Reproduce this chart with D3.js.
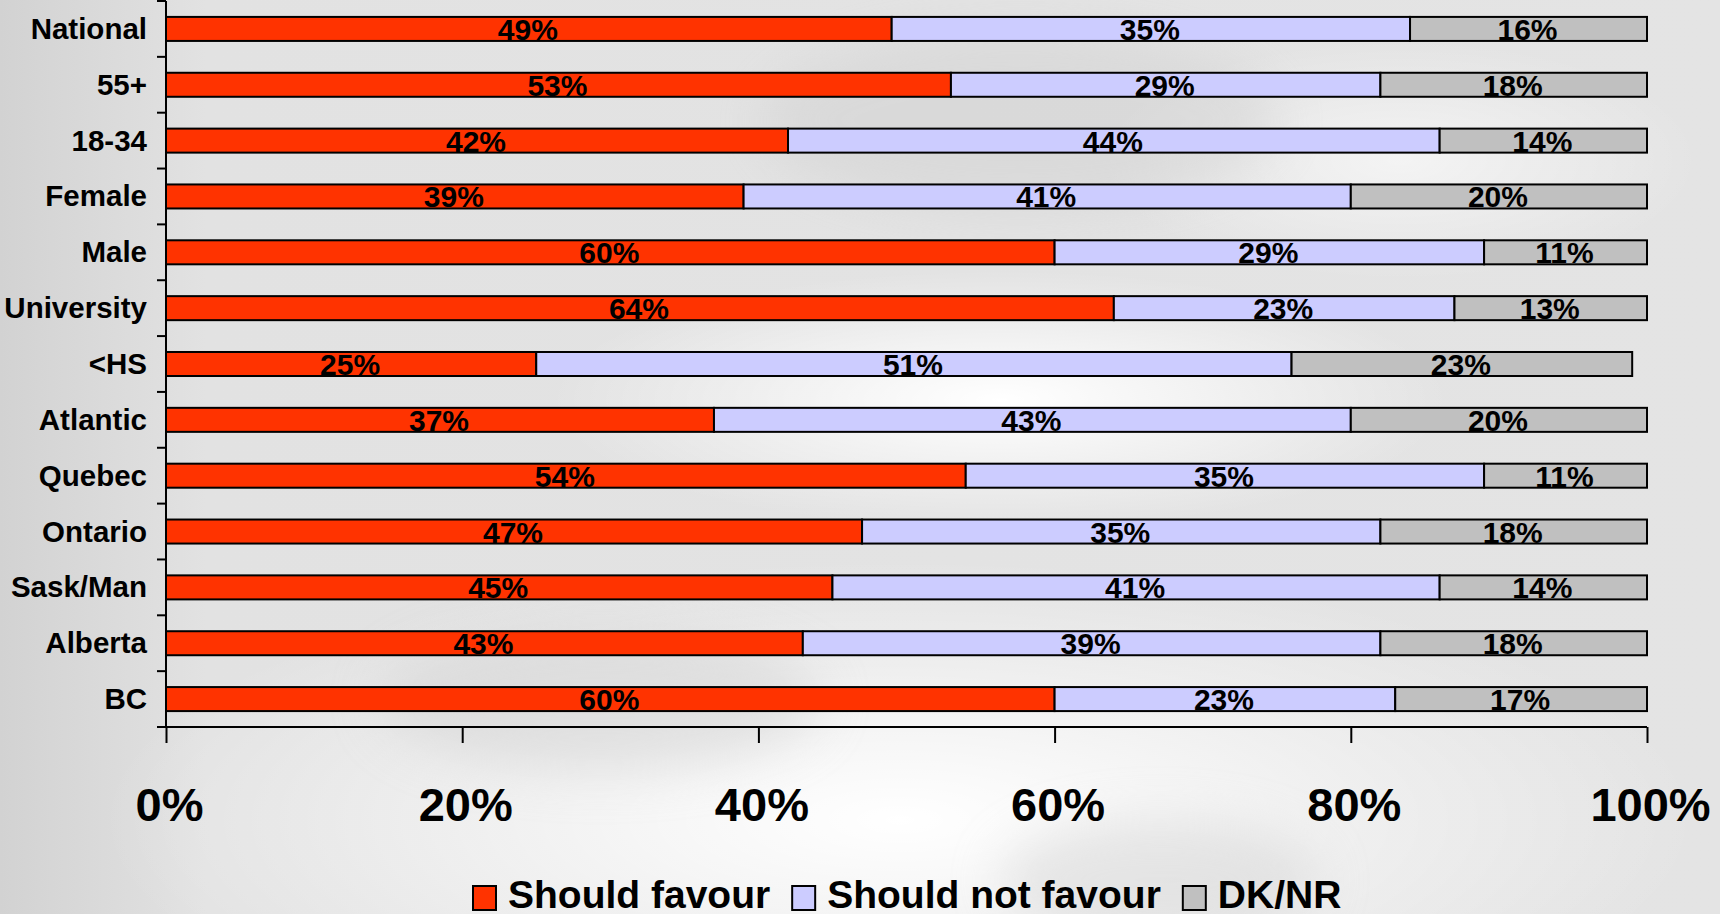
<!DOCTYPE html>
<html>
<head>
<meta charset="utf-8">
<script src="https://cdn.jsdelivr.net/npm/d3@7"></script>
<style>
  html, body { margin: 0; padding: 0; background: #e6e6e6; }
  svg { display: block; }
</style>
</head>
<body>
<script>
const categories = ["National", "55+", "18-34", "Female", "Male", "University", "<HS",
  "Atlantic", "Quebec", "Ontario", "Sask/Man", "Alberta", "BC"];
const shouldFavour    = [49, 53, 42, 39, 60, 64, 25, 37, 54, 47, 45, 43, 60];
const shouldNotFavour = [35, 29, 44, 41, 29, 23, 51, 43, 35, 35, 41, 39, 23];
const dkNr            = [16, 18, 14, 20, 11, 13, 23, 20, 11, 18, 14, 18, 17];
const seriesNames = ["Should favour", "Should not favour", "DK/NR"];
const seriesColors = ["#FF3300", "#CCCCFF", "#C0C0C0"];
const xTicks = [0, 20, 40, 60, 80, 100];

const W = 1720, H = 914;
const svg = d3.select("body").append("svg").attr("width", W).attr("height", H);

// background
const defs = svg.append("defs");
const bg = defs.append("linearGradient").attr("id", "bgLin").attr("x1", 0).attr("x2", 1).attr("y1", 0).attr("y2", 0);
bg.append("stop").attr("offset", 0).attr("stop-color", "#d2d2d2");
bg.append("stop").attr("offset", 0.12).attr("stop-color", "#e2e2e2");
bg.append("stop").attr("offset", 1).attr("stop-color", "#e4e4e4");
const rw = defs.append("radialGradient").attr("id", "white");
rw.append("stop").attr("offset", 0).attr("stop-color", "#ffffff").attr("stop-opacity", 1);
rw.append("stop").attr("offset", 1).attr("stop-color", "#ffffff").attr("stop-opacity", 0);
const blur = defs.append("filter").attr("id", "blur").attr("x", "-50%").attr("y", "-50%").attr("width", "200%").attr("height", "200%");
blur.append("feGaussianBlur").attr("stdDeviation", 25);

svg.append("rect").attr("width", W).attr("height", H).attr("fill", "url(#bgLin)");
const blobs = svg.append("g");
blobs.append("ellipse").attr("cx", 900).attr("cy", 820).attr("rx", 800).attr("ry", 260).attr("fill", "url(#white)");
blobs.append("ellipse").attr("cx", 1000).attr("cy", 400).attr("rx", 450).attr("ry", 130).attr("fill", "url(#white)");
blobs.append("ellipse").attr("cx", 1400).attr("cy", 160).attr("rx", 300).attr("ry", 120).attr("fill", "url(#white)").attr("opacity", 0.6);
blobs.append("ellipse").attr("cx", 600).attr("cy", 700).attr("rx", 220).attr("ry", 70).attr("fill", "#d0d0d0").attr("opacity", 0.5).attr("filter", "url(#blur)");
blobs.append("ellipse").attr("cx", 1160).attr("cy", 880).attr("rx", 160).attr("ry", 60).attr("fill", "#d4d4d4").attr("opacity", 0.5).attr("filter", "url(#blur)");
blobs.append("ellipse").attr("cx", 1020).attr("cy", 120).attr("rx", 260).attr("ry", 90).attr("fill", "#cfcfcf").attr("opacity", 0.45).attr("filter", "url(#blur)");

const x = d3.scaleLinear().domain([0, 100]).range([166, 1647]);
const y = d3.scaleBand().domain(categories).range([1, 727]).paddingInner(0.57).paddingOuter(0.285);

const rows = categories.map((c, i) => ({cat: c, vals: [shouldFavour[i], shouldNotFavour[i], dkNr[i]]}));
const font = "'Liberation Sans', Arial, Helvetica, sans-serif";

// bars
const rowG = svg.append("g").selectAll("g").data(rows).join("g");
rowG.each(function(d) {
  let cum = 0;
  const segs = d.vals.map((v, k) => { const s = {x0: cum, x1: cum + v, v, k, cat: d.cat}; cum += v; return s; });
  const g = d3.select(this);
  g.selectAll("rect").data(segs).join("rect")
    .attr("x", s => x(s.x0)).attr("width", s => x(s.x1) - x(s.x0))
    .attr("y", y(d.cat)).attr("height", y.bandwidth())
    .attr("fill", s => seriesColors[s.k])
    .attr("stroke", "#000").attr("stroke-width", 2);
  g.selectAll("text").data(segs).join("text")
    .attr("x", s => (x(s.x0) + x(s.x1)) / 2 - 1)
    .attr("y", y(d.cat) + y.bandwidth() / 2 + 11)
    .attr("text-anchor", "middle")
    .attr("font-family", font).attr("font-weight", "bold").attr("font-size", 30)
    .attr("fill", "#000")
    .text(s => s.v + "%");
});

// y axis
const yg = svg.append("g").attr("transform", "translate(166,0)");
yg.append("line").attr("x1", 0).attr("x2", 0).attr("y1", 1).attr("y2", 727).attr("stroke", "#000").attr("stroke-width", 2);
const yTickPos = d3.range(categories.length + 1).map(i => 1 + i * (726 / categories.length));
yg.selectAll("line.tk").data(yTickPos).join("line").attr("class", "tk")
  .attr("x1", -9).attr("x2", 0).attr("y1", d => d).attr("y2", d => d)
  .attr("stroke", "#000").attr("stroke-width", 2);
yg.selectAll("text").data(categories).join("text")
  .attr("x", -19).attr("y", d => y(d) + y.bandwidth() / 2 + 10)
  .attr("text-anchor", "end")
  .attr("font-family", font).attr("font-weight", "bold").attr("font-size", 29.5)
  .attr("fill", "#000").text(d => d);

// x axis
const xAxis = d3.axisBottom(x).tickValues(xTicks).tickSize(16).tickPadding(0).tickFormat(d => d + "%");
const xg = svg.append("g").attr("transform", "translate(0,727)").call(xAxis);
xg.select(".domain").attr("stroke", "#000").attr("stroke-width", 2).attr("d", `M${x(0)},0H${x(100)}`);
xg.selectAll(".tick line").attr("stroke", "#000").attr("stroke-width", 2);
xg.selectAll(".tick text")
  .attr("y", 94).attr("dy", 0).attr("dx", 3)
  .attr("font-family", font).attr("font-weight", "bold").attr("font-size", 47)
  .attr("fill", "#000");

// legend
const legend = svg.append("g").attr("transform", "translate(472,0)");
let lx = 0;
seriesNames.forEach((name, k) => {
  legend.append("rect").attr("x", lx + 1).attr("y", 886).attr("width", 23).attr("height", 24)
    .attr("fill", seriesColors[k]).attr("stroke", "#000").attr("stroke-width", 2);
  const t = legend.append("text").attr("x", lx + 36).attr("y", 908)
    .attr("font-family", font).attr("font-weight", "bold").attr("font-size", 39)
    .attr("fill", "#000").text(name);
  lx += 36 + t.node().getComputedTextLength() + 21;
});
</script>
</body>
</html>
